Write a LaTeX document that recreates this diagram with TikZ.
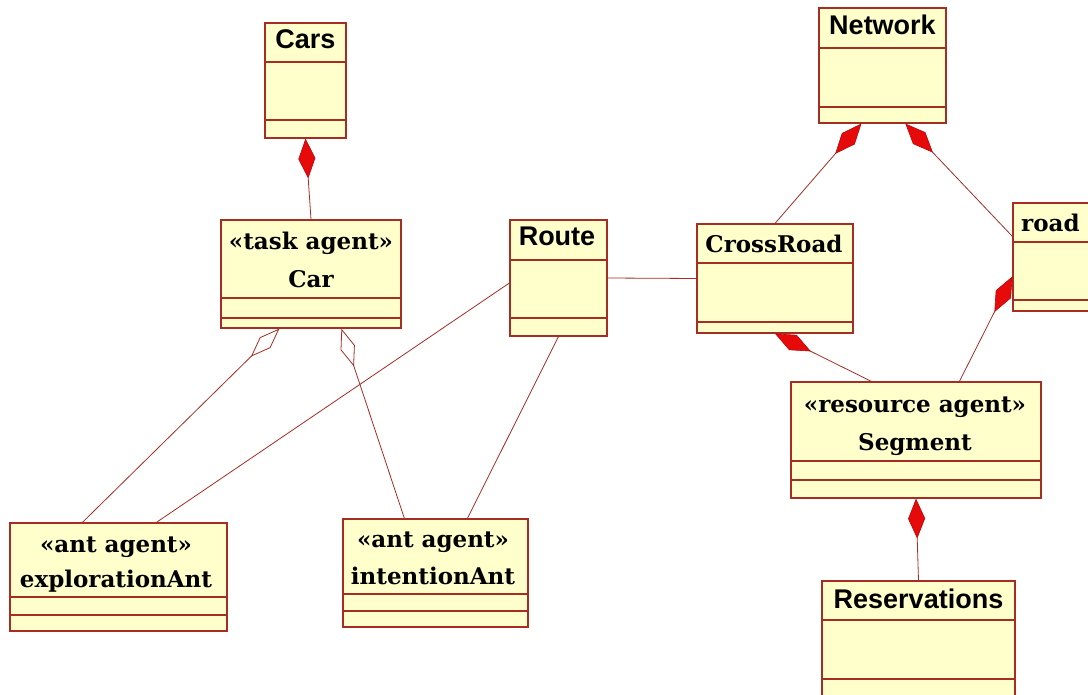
\documentclass[tikz,border=0pt]{standalone}
\usepackage{fontspec}
\setmainfont{DejaVu Serif}
\setsansfont{Liberation Sans}
\usetikzlibrary{arrows.meta}
\definecolor{umlfill}{RGB}{255,255,204}
\definecolor{umlline}{RGB}{165,45,35}
\definecolor{compred}{RGB}{230,10,10}
\begin{document}
\begin{tikzpicture}[x=1pt,y=-1pt,
  umlbox/.style={draw=umlline, fill=umlfill, line width=1.2pt, inner sep=0pt, rectangle},
  compline/.style={draw=umlline, line width=1.2pt},
  sanstitle/.style={font=\sffamily\bfseries\fontsize{27}{31}\selectfont, inner sep=0pt, anchor=base},
  seriftext/.style={font=\bfseries\fontsize{23}{27}\selectfont, inner sep=0pt, anchor=base},
  conn/.style={draw=umlline, line width=0.8pt},
  comp/.style={conn, {Diamond[length=40pt,width=17pt,fill=compred,color=compred!80!black,line width=0.6pt]}-},
  agg/.style={conn, {Diamond[open,length=40pt,width=15pt,line width=0.8pt]}-}
]
\useasboundingbox[fill=white] (0,0) rectangle (1088,695);

% boxes
\node[umlbox, minimum width=81pt, minimum height=115pt] (cars) at (305.5,80.5) {};
\node[umlbox, minimum width=180pt, minimum height=108pt] (car) at (311,274) {};
\node[umlbox, minimum width=97pt, minimum height=116pt] (route) at (558.5,278) {};
\node[umlbox, minimum width=156pt, minimum height=109pt] (crossroad) at (775,278.5) {};
\node[umlbox, minimum width=127pt, minimum height=115pt] (network) at (882.5,65.5) {};
\node[umlbox, minimum width=110pt, minimum height=108pt] (road) at (1068,257) {};
\node[umlbox, minimum width=250pt, minimum height=116pt] (segment) at (916,440) {};
\node[umlbox, minimum width=217pt, minimum height=108pt] (expl) at (118.5,577) {};
\node[umlbox, minimum width=185pt, minimum height=108pt] (intent) at (435.5,573) {};
\node[umlbox, minimum width=193pt, minimum height=120pt] (reserv) at (918.5,641) {};

% compartment lines
\draw[compline] (cars.west |- 0,62) -- (cars.east |- 0,62) (cars.west |- 0,120) -- (cars.east |- 0,120);
\draw[compline] (car.west |- 0,298) -- (car.east |- 0,298) (car.west |- 0,318) -- (car.east |- 0,318);
\draw[compline] (route.west |- 0,260) -- (route.east |- 0,260) (route.west |- 0,318) -- (route.east |- 0,318);
\draw[compline] (crossroad.west |- 0,263) -- (crossroad.east |- 0,263) (crossroad.west |- 0,322) -- (crossroad.east |- 0,322);
\draw[compline] (network.west |- 0,48) -- (network.east |- 0,48) (network.west |- 0,107) -- (network.east |- 0,107);
\draw[compline] (road.west |- 0,242) -- (road.east |- 0,242) (road.west |- 0,300) -- (road.east |- 0,300);
\draw[compline] (segment.west |- 0,461) -- (segment.east |- 0,461) (segment.west |- 0,480) -- (segment.east |- 0,480);
\draw[compline] (expl.west |- 0,597) -- (expl.east |- 0,597) (expl.west |- 0,615) -- (expl.east |- 0,615);
\draw[compline] (intent.west |- 0,594) -- (intent.east |- 0,594) (intent.west |- 0,611) -- (intent.east |- 0,611);
\draw[compline] (reserv.west |- 0,620) -- (reserv.east |- 0,620) (reserv.west |- 0,679) -- (reserv.east |- 0,679);

% texts
\node[sanstitle] (carsT) at (305.5,49) {Cars};
\node[sanstitle] (routeT) at (557,246) {Route};
\node[sanstitle] (networkT) at (882.5,35) {Network};
\node[sanstitle] (reservT) at (918.5,608) {Reservations};
\node[seriftext] (carS) at (311,250) {«task agent»};
\node[seriftext] (carT) at (311,288) {Car};
\node[seriftext] (crossT) at (774,253) {CrossRoad};
\node[seriftext, anchor=base west] (roadT) at (1021,232) {road};
\node[seriftext] (segS) at (915,412) {«resource agent»};
\node[seriftext] (segT) at (915,450) {Segment};
\node[seriftext] (explS) at (116,552) {«ant agent»};
\node[seriftext] (explT) at (116,587) {explorationAnt};
\node[seriftext] (intS) at (433,547) {«ant agent»};
\node[seriftext] (intT) at (433,584) {intentionAnt};

% connectors
\draw[comp] (cars.south) -- (car.north);
\draw[agg] ([xshift=59pt]car.south west) -- ([xshift=73pt]expl.north west);
\draw[agg] ([xshift=121pt]car.south west) -- ([xshift=62pt]intent.north west);
\draw[conn] ([yshift=-5pt]route.west) -- ([xshift=147pt]expl.north west);
\draw[conn] (route.south) -- ([xshift=125pt]intent.north west);
\draw[conn] (route.east) -- (crossroad.west);
\draw[comp] ([xshift=43pt]network.south west) -- (crossroad.north);
\draw[comp] ([xshift=87pt]network.south west) -- ([yshift=-34pt]road.north west);
\draw[comp] (crossroad.south) -- ([xshift=81pt]segment.north west);
\draw[comp] ([yshift=-74pt]road.north west) -- ([xshift=169pt]segment.north west);
\draw[comp] (segment.south) -- (reserv.north);
\end{tikzpicture}
\end{document}
